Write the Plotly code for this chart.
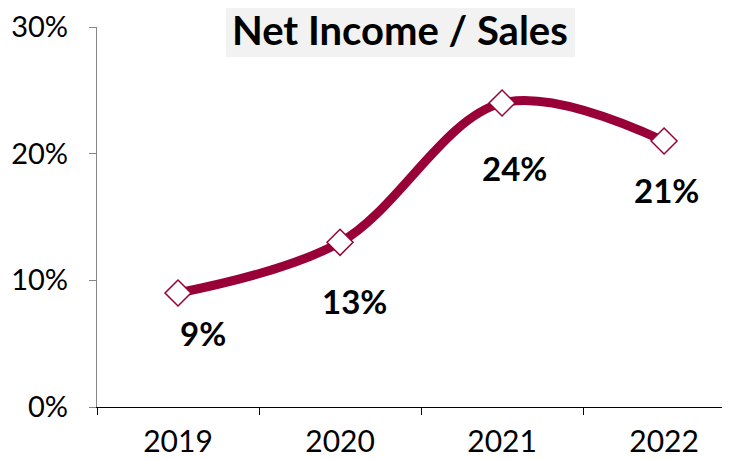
import plotly.graph_objects as go

years = ["2019", "2020", "2021", "2022"]
margin_pct = [9, 13, 24, 21]
labels = ["9%", "13%", "24%", "21%"]
y_ticks = [0, 10, 20, 30]
y_tick_text = ["0%", "10%", "20%", "30%"]

# label pixel offsets (style)
label_dx = [25, 14, 12, 2]
label_dy = [-40, -59, -65, -49]

LINE = "#990038"
FONT = "Lato, 'Open Sans', sans-serif"

fig = go.Figure()
fig.add_trace(go.Scatter(
    x=years, y=margin_pct,
    mode="lines+markers",
    line=dict(color=LINE, width=9, shape="spline", smoothing=1.0),
    marker=dict(symbol="diamond", size=20, color="white",
                line=dict(color=LINE, width=1.5)),
    hoverinfo="skip", showlegend=False, cliponaxis=False,
))

for i, (v, t) in enumerate(zip(margin_pct, labels)):
    fig.add_annotation(x=i, y=v, xref="x", yref="y", text=f"<b>{t}</b>",
                       showarrow=False,
                       xshift=label_dx[i], yshift=label_dy[i],
                       font=dict(family=FONT, size=33, color="black"))

# title background box and text
fig.add_shape(type="rect", xref="paper", yref="paper",
              x0=0.2038, x1=0.7551, y0=0.921, y1=1.08,
              fillcolor="#F2F2F2", line=dict(width=0), layer="below")
fig.add_annotation(xref="paper", yref="paper", x=0.4787, y=0.992,
                   xanchor="center", yanchor="middle",
                   text="<b>Net Income / Sales</b>", showarrow=False,
                   font=dict(family=FONT, size=40, color="black"))

fig.update_layout(
    width=722, height=453,
    margin=dict(l=89, r=0, t=19, b=54, autoexpand=False),
    paper_bgcolor="white", plot_bgcolor="white",
    font=dict(family=FONT, size=29, color="black"),
)
fig.update_xaxes(
    type="category", range=[-0.5, 3.407],
    showgrid=False, zeroline=False, showline=True, linecolor="black", linewidth=1.3,
    ticks="outside", ticklen=7, tickcolor="black", tickson="boundaries",
    ticklabelstandoff=8, automargin=False, tickfont=dict(size=30),
)
fig.update_yaxes(
    range=[0, 30], tickvals=y_ticks, ticktext=y_tick_text,
    showgrid=False, zeroline=False, showline=True, linecolor="#868686", linewidth=1.3,
    ticks="outside", ticklen=7, tickcolor="#868686",
    ticklabelstandoff=15, automargin=False,
)
fig.write_html("out.html")
